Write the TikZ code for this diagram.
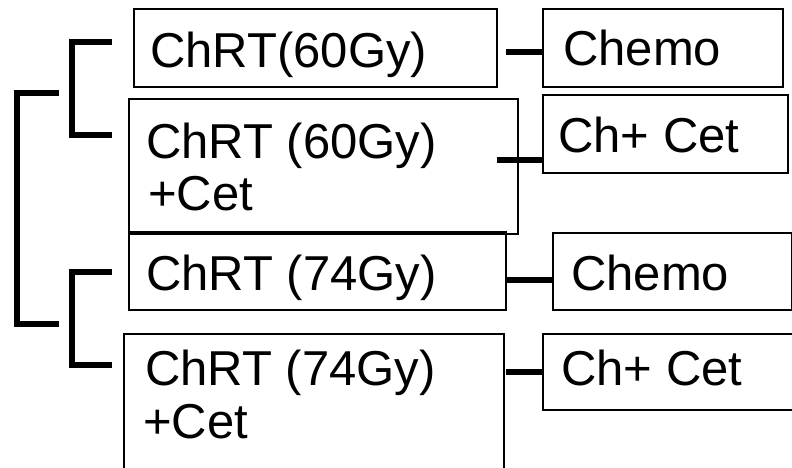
\documentclass[tikz,border=0pt]{standalone}
\usepackage{fontspec}
\setmainfont{Liberation Sans}
\begin{document}
\begin{tikzpicture}[x=1pt,y=-1pt,
  box/.style={draw=black, line width=1.6pt, anchor=north west, inner sep=0pt},
  link/.style={draw=black, line width=5.6pt, line cap=butt, line join=miter},
  lbl/.style={anchor=base west, inner sep=0pt, font=\fontsize{49}{52}\selectfont}]
\clip (0,0) rectangle (792,467);

% treatment boxes (left column)
\node[box, minimum width=363pt, minimum height=78pt]  (a) at (133,8)   {};
\node[box, minimum width=389pt, minimum height=135pt] (b) at (128,98)  {};
\node[box, minimum width=377pt, minimum height=78pt]  (c) at (128,231) {};
\node[box, minimum width=380pt, minimum height=200pt] (d) at (123,333) {};

% maintenance boxes (right column)
\node[box, minimum width=240pt, minimum height=78pt] (e) at (542,8)   {};
\node[box, minimum width=245pt, minimum height=78pt] (f) at (542,94)  {};
\node[box, minimum width=239pt, minimum height=77pt] (g) at (552,232) {};
\node[box, minimum width=270pt, minimum height=76pt] (h) at (542,333) {};

% labels
\foreach \n/\x/\y/\t in {
    la/150/67/{ChRT(60Gy)},
    lb1/146/158/{ChRT (60Gy)}, lb2/148/210/{+Cet},
    lc/146/290/{ChRT (74Gy)},
    ld1/145/385/{ChRT (74Gy)}, ld2/143/438/{+Cet},
    le/563/65/{Chemo}, lf/558/152/{Ch+ Cet},
    lg/571/290/{Chemo}, lh/561/385/{Ch+ Cet}} {
  \node[lbl] (\n) at (\x,\y) {\t};
}

% stubs linking each arm to its maintenance box
\coordinate (s1) at (506,52);
\coordinate (s2) at (497,160);
\coordinate (s3) at (506,280);
\coordinate (s4) at (506,372);
\draw[link] (s1) -- (s1 -| e.west);
\draw[link] (s2) -- (s2 -| f.west);
\draw[link] (s3) -- (s3 -| g.west);
\draw[link] (s4) -- (s4 -| h.west);

% randomisation brackets
\coordinate (t1) at (112,42);  \coordinate (t2) at (112,135);
\coordinate (u1) at (112,272); \coordinate (u2) at (112,365);
\coordinate (r1) at (59,93);   \coordinate (r2) at (59,324);
\draw[link] (t1) -| (72,88.5) |- (t2);
\draw[link] (u1) -| (72,318.5) |- (u2);
\draw[link] (r1) -| (17,208.5) |- (r2);
\end{tikzpicture}
\end{document}
